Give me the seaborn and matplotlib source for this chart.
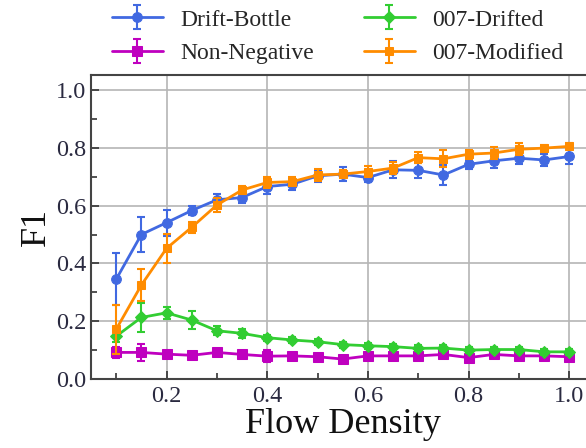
import numpy as np
import pandas as pd
import matplotlib
matplotlib.use("Agg")
import matplotlib.pyplot as plt
import seaborn as sns
from matplotlib.legend_handler import HandlerTuple

density = [0.10, 0.15, 0.20, 0.25, 0.30, 0.35, 0.40, 0.45, 0.50, 0.55,
           0.60, 0.65, 0.70, 0.75, 0.80, 0.85, 0.90, 0.95, 1.00]

drift_bottle = [0.345, 0.500, 0.541, 0.583, 0.620, 0.628, 0.666, 0.674, 0.703, 0.709,
                0.697, 0.724, 0.722, 0.706, 0.743, 0.755, 0.764, 0.758, 0.770]
drift_bottle_err = [0.090, 0.060, 0.045, 0.015, 0.020, 0.020, 0.025, 0.020, 0.020, 0.025,
                    0.015, 0.030, 0.025, 0.035, 0.015, 0.025, 0.020, 0.020, 0.025]

non_negative = [0.092, 0.092, 0.086, 0.082, 0.092, 0.085, 0.079, 0.080, 0.077, 0.069,
                0.080, 0.080, 0.080, 0.085, 0.074, 0.085, 0.080, 0.080, 0.077]
non_negative_err = [0.020, 0.030, 0.010, 0.010, 0.010, 0.010, 0.020, 0.010, 0.010, 0.010,
                    0.010, 0.010, 0.010, 0.010, 0.010, 0.010, 0.010, 0.010, 0.010]

drifted_007 = [0.148, 0.213, 0.229, 0.204, 0.167, 0.158, 0.143, 0.135, 0.129, 0.119,
               0.115, 0.112, 0.106, 0.107, 0.100, 0.102, 0.102, 0.094, 0.094]
drifted_007_err = [0.020, 0.050, 0.020, 0.030, 0.015, 0.015, 0.010, 0.010, 0.010, 0.010,
                   0.010, 0.010, 0.010, 0.010, 0.010, 0.010, 0.010, 0.010, 0.010]

modified_007 = [0.172, 0.325, 0.452, 0.525, 0.602, 0.654, 0.680, 0.683, 0.706, 0.709,
                0.718, 0.730, 0.766, 0.762, 0.778, 0.782, 0.795, 0.799, 0.805]
modified_007_err = [0.085, 0.055, 0.050, 0.020, 0.025, 0.015, 0.020, 0.015, 0.020, 0.015,
                    0.020, 0.020, 0.020, 0.030, 0.015, 0.020, 0.020, 0.012, 0.010]

names = ["Drift-Bottle", "Non-Negative", "007-Drifted", "007-Modified"]
values = [drift_bottle, non_negative, drifted_007, modified_007]
errors = [drift_bottle_err, non_negative_err, drifted_007_err, modified_007_err]
colors = ["#4169E1", "#BF00BF", "#32CD32", "#FF8C00"]
markers = ["o", "s", "D", "s"]
msizes = [7, 7, 6.5, 5.5]

sns.set_style("ticks")
plt.rcParams["font.family"] = ["Liberation Serif", "DejaVu Serif"]

fig = plt.figure(figsize=(5.86, 4.48), dpi=100)
ax = fig.add_axes([91/586, 69/448, 503.5/586, 304/448])

df = pd.concat([pd.DataFrame({"density": density, "F1": v, "err": e, "method": n})
                for n, v, e in zip(names, values, errors)], ignore_index=True)

handles = []
for n, c, m, ms in zip(names, colors, markers, msizes):
    sub = df[df["method"] == n]
    sns.lineplot(data=sub, x="density", y="F1", color=c, marker=m, markersize=ms,
                 markeredgecolor=c, linewidth=2, ax=ax, legend=False, errorbar=None)
    line = ax.lines[-1]
    eb = ax.errorbar(sub["density"], sub["F1"], yerr=sub["err"], fmt="none",
                     ecolor=c, elinewidth=1.5, capsize=3, capthick=1.5)
    handles.append((line, eb))

ax.set_xlim(0.05, 1.05)
ax.set_ylim(0.0, 1.052)
ax.set_xticks([0.2, 0.4, 0.6, 0.8, 1.0])
ax.set_xticklabels(["0.2", "0.4", "0.6", "0.8", "1.0"])
ax.set_yticks([0.0, 0.2, 0.4, 0.6, 0.8, 1.0])
ax.set_yticklabels(["0.0", "0.2", "0.4", "0.6", "0.8", "1.0"])
ax.set_xticks(np.arange(0.1, 1.01, 0.1), minor=True)
ax.set_yticks(np.arange(0.1, 1.0, 0.2), minor=True)
ax.tick_params(axis="both", which="major", direction="in", length=6, width=1.2,
               labelsize=17.5, colors="#333333", labelcolor="#2a2a40")
ax.tick_params(axis="x", which="major", pad=5)
ax.tick_params(axis="both", which="minor", direction="in", length=4, width=1.2,
               colors="#333333")
ax.grid(True, which="major", color="#b5b5b5", linewidth=1.2)
for s in ax.spines.values():
    s.set_color("#444444")
    s.set_linewidth(1.5)

ax.set_xlabel("Flow Density", fontsize=26, color="#111111", labelpad=1)
ax.set_ylabel("F1", fontsize=26, color="#111111", labelpad=2)

fig.legend(handles, names, ncol=2, loc="upper left",
           bbox_to_anchor=(112 / 586, 1 - 9 / 448), bbox_transform=fig.transFigure,
           frameon=False, fontsize=17, handlelength=2.15, handletextpad=0.75,
           columnspacing=2.1, labelspacing=0.52, borderpad=0, borderaxespad=0,
           handler_map={tuple: HandlerTuple(ndivide=1)})

fig.savefig("out.png", dpi=100)
